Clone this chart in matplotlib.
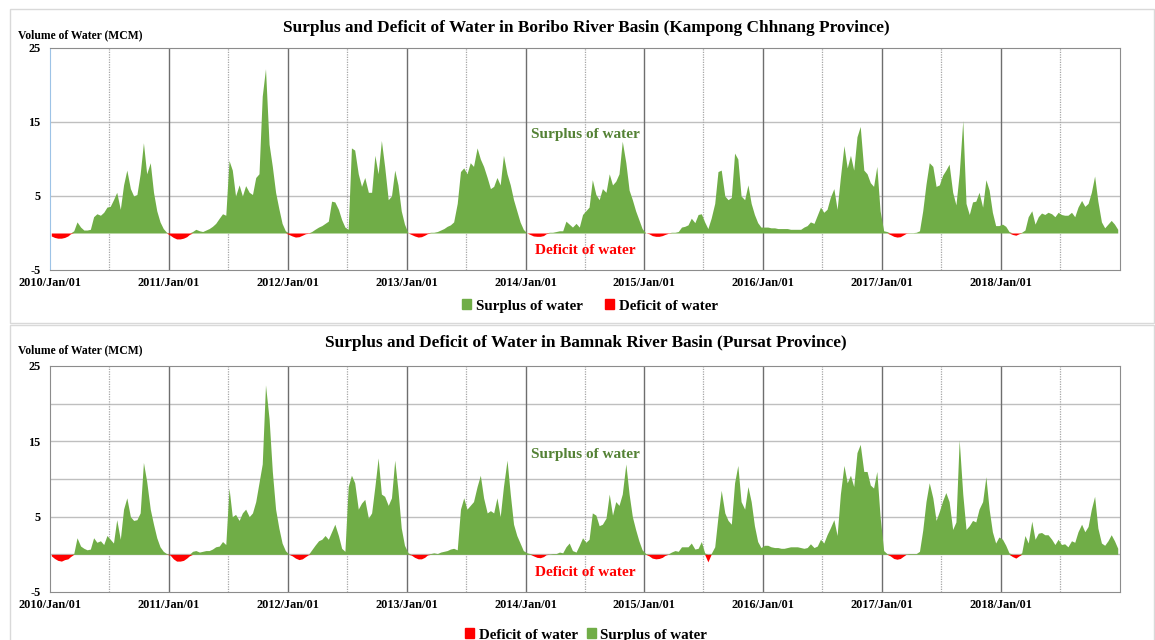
import datetime as dt

import matplotlib
matplotlib.use("Agg")
import matplotlib.dates as mdates
import matplotlib.pyplot as plt
import numpy as np
from matplotlib.patches import Patch, Rectangle

plt.rcParams["font.family"] = ["Liberation Serif", "DejaVu Serif"]
plt.rcParams["font.weight"] = "bold"
plt.rcParams["axes.unicode_minus"] = False

YEARS = list(range(2010, 2019))

# ten-day net water balance (MCM), 36 values per year; > 0 surplus, < 0 deficit
boribo_2010 = [-0.4, -0.6, -0.7, -0.7, -0.6, -0.4, -0.1, 0.3, 1.5, 0.8, 0.4, 0.4,
               0.5, 2.2, 2.6, 2.4, 2.8, 3.5, 3.6, 4.5, 5.5, 3.2, 6.5, 8.5,
               6.0, 5.0, 5.2, 8.0, 12.2, 8.0, 9.5, 5.5, 3.0, 1.5, 0.6, 0.1]
boribo_2011 = [-0.3, -0.6, -0.8, -0.8, -0.7, -0.5, -0.2, 0.2, 0.5, 0.3, 0.2, 0.4,
               0.6, 0.9, 1.3, 2.0, 2.6, 2.4, 9.8, 8.5, 5.0, 6.5, 5.0, 6.4,
               5.5, 5.2, 7.5, 8.0, 18.5, 22.2, 12.0, 9.0, 5.5, 3.3, 1.3, 0.3]
boribo_2012 = [-0.2, -0.4, -0.55, -0.5, -0.3, -0.1, -0.05, 0.2, 0.5, 0.8, 1.0, 1.3,
               1.6, 4.3, 4.2, 3.2, 1.8, 0.8, 0.5, 11.5, 11.2, 8.0, 6.3, 7.5,
               5.5, 5.5, 10.5, 8.0, 12.5, 9.0, 4.5, 5.0, 8.5, 6.5, 3.0, 1.2]
boribo_2013 = [0.0, -0.2, -0.4, -0.55, -0.5, -0.3, -0.1, 0.1, 0.1, 0.2, 0.4, 0.6,
               0.9, 1.1, 1.5, 4.0, 8.3, 8.8, 8.0, 9.5, 9.0, 11.5, 10.0, 9.0,
               7.5, 6.0, 6.3, 7.5, 6.5, 10.5, 8.0, 6.5, 4.5, 3.0, 1.5, 0.5]
boribo_2014 = [0.0, -0.2, -0.4, -0.45, -0.45, -0.35, -0.1, 0.1, 0.1, 0.2, 0.3, 0.3,
               1.6, 1.2, 0.8, 1.3, 0.8, 2.5, 3.0, 3.5, 7.2, 5.2, 4.5, 6.0,
               5.5, 8.0, 6.5, 7.0, 8.0, 12.4, 9.5, 5.8, 4.5, 3.0, 1.8, 0.6]
boribo_2015 = [0.0, -0.1, -0.35, -0.45, -0.45, -0.35, -0.2, -0.05, 0.1, 0.1, 0.2, 0.8,
               0.9, 1.1, 2.0, 1.4, 2.5, 2.6, 1.5, 0.6, 2.0, 4.0, 8.3, 8.5,
               5.0, 4.5, 4.8, 10.8, 10.0, 5.0, 4.5, 6.5, 4.0, 2.5, 1.4, 0.8]
boribo_2016 = [0.8, 0.8, 0.7, 0.7, 0.6, 0.6, 0.6, 0.6, 0.5, 0.5, 0.5, 0.5,
               0.8, 1.0, 1.5, 1.3, 2.4, 3.5, 2.8, 3.2, 4.8, 6.0, 3.2, 7.5,
               11.8, 8.8, 10.5, 8.5, 13.0, 14.4, 8.5, 8.0, 6.8, 6.3, 9.0, 3.0]
boribo_2017 = [0.3, 0.2, -0.2, -0.45, -0.55, -0.5, -0.3, -0.05, 0.05, 0.05, 0.1, 0.3,
               3.0, 6.6, 9.5, 9.0, 6.3, 6.5, 7.8, 8.5, 9.3, 5.5, 3.8, 8.0,
               15.2, 4.0, 2.5, 4.2, 4.3, 5.5, 3.5, 7.2, 5.8, 2.8, 1.0, 1.0]
boribo_2018 = [1.2, 0.9, 0.2, -0.2, -0.3, -0.1, 0.1, 0.4, 2.2, 3.0, 1.2, 2.2,
               2.7, 2.5, 2.8, 2.6, 2.2, 2.8, 2.5, 2.4, 2.4, 2.8, 2.2, 3.5,
               4.4, 3.6, 4.0, 5.5, 7.7, 4.3, 1.5, 0.7, 1.2, 1.7, 1.2, 0.5]

bamnak_2010 = [-0.2, -0.55, -0.8, -0.9, -0.7, -0.6, -0.3, 0.1, 2.2, 1.1, 0.8, 0.6,
               0.7, 2.2, 1.6, 1.8, 1.3, 2.5, 2.0, 1.5, 4.6, 2.0, 6.0, 7.5,
               5.0, 4.5, 4.6, 5.5, 12.2, 9.7, 6.0, 4.0, 2.2, 1.0, 0.4, 0.1]
bamnak_2011 = [-0.1, -0.6, -0.9, -0.9, -0.8, -0.5, -0.2, 0.4, 0.5, 0.3, 0.4, 0.5,
               0.5, 0.7, 1.0, 1.1, 1.7, 1.3, 8.8, 5.0, 5.3, 4.5, 5.5, 6.0,
               5.0, 5.5, 7.0, 9.5, 12.0, 22.5, 18.0, 11.0, 6.0, 3.5, 1.5, 0.5]
bamnak_2012 = [0.0, -0.2, -0.5, -0.7, -0.6, -0.3, -0.05, 0.6, 1.2, 1.8, 2.0, 2.5,
               2.0, 3.0, 4.0, 2.5, 0.8, 0.4, 9.0, 10.5, 9.5, 6.0, 6.8, 7.3,
               4.8, 5.5, 9.0, 12.8, 8.0, 7.7, 6.5, 7.5, 12.5, 8.5, 3.5, 1.2]
bamnak_2013 = [0.2, -0.1, -0.4, -0.6, -0.6, -0.4, -0.1, 0.1, 0.2, 0.1, 0.3, 0.4,
               0.5, 0.7, 0.8, 0.6, 6.0, 7.5, 6.0, 6.5, 7.0, 9.0, 10.5, 7.5,
               5.5, 5.8, 5.5, 7.5, 5.0, 9.0, 12.5, 8.0, 4.0, 2.5, 1.5, 0.5]
bamnak_2014 = [0.2, 0.1, -0.2, -0.4, -0.45, -0.3, -0.05, 0.05, 0.1, 0.1, 0.3, 0.2,
               1.0, 1.5, 0.5, 0.3, 1.2, 2.2, 1.6, 2.0, 5.5, 5.2, 3.8, 4.0,
               4.8, 8.0, 5.2, 7.0, 6.5, 8.0, 12.0, 8.0, 5.0, 3.3, 1.8, 0.6]
bamnak_2015 = [0.1, -0.2, -0.5, -0.6, -0.55, -0.4, -0.15, 0.05, 0.3, 0.5, 0.4, 1.0,
               1.0, 1.0, 1.5, 0.7, 0.8, 1.7, 0.2, -1.0, 0.1, 1.0, 5.0, 8.5,
               5.5, 4.5, 4.0, 9.5, 11.8, 7.0, 6.0, 9.0, 7.0, 3.8, 1.7, 0.9]
bamnak_2016 = [1.2, 1.2, 1.0, 0.9, 0.9, 0.8, 0.8, 0.9, 1.0, 1.0, 1.0, 0.9,
               0.8, 0.9, 1.4, 0.9, 1.1, 2.0, 1.5, 2.6, 3.5, 4.6, 2.5, 8.0,
               11.8, 9.5, 10.5, 9.0, 13.5, 14.6, 11.0, 11.0, 9.2, 8.8, 11.0, 5.0]
bamnak_2017 = [0.5, 0.1, -0.2, -0.55, -0.65, -0.55, -0.3, 0.05, 0.1, 0.1, 0.1, 0.4,
               3.2, 7.0, 9.5, 7.5, 4.5, 5.7, 7.1, 8.2, 7.0, 3.3, 4.3, 15.2,
               8.0, 3.3, 3.8, 4.5, 4.3, 6.0, 7.0, 10.3, 6.0, 3.0, 1.5, 2.3]
bamnak_2018 = [2.0, 1.2, 0.2, -0.3, -0.5, -0.2, 0.2, 2.5, 1.5, 4.4, 2.0, 2.8,
               2.9, 2.6, 2.6, 2.0, 1.3, 2.0, 1.3, 1.4, 1.0, 1.8, 1.6, 3.0,
               4.0, 3.0, 3.7, 6.0, 7.7, 3.5, 1.5, 1.2, 1.8, 2.6, 1.8, 0.8]

boribo = (boribo_2010 + boribo_2011 + boribo_2012 + boribo_2013 + boribo_2014
          + boribo_2015 + boribo_2016 + boribo_2017 + boribo_2018)
bamnak = (bamnak_2010 + bamnak_2011 + bamnak_2012 + bamnak_2013 + bamnak_2014
          + bamnak_2015 + bamnak_2016 + bamnak_2017 + bamnak_2018)

GREEN = "#70AD47"
RED = "#FF0000"
TEXT_GREEN = "#548235"

dates = [dt.datetime(y, m, d) for y in YEARS for m in range(1, 13) for d in (5, 15, 25)]


def draw_panel(ax, values, yticks_grid, left_color):
    v = np.array(values)
    surplus = np.clip(v, 0, None)
    deficit = np.clip(v, None, 0)

    for g in yticks_grid:
        ax.axhline(g, color="#BFBFBF", lw=1.0, zorder=0)
    for y in YEARS[1:]:
        ax.axvline(dt.datetime(y, 1, 1), color="#6E6E6E", lw=1.0, zorder=0)
    for y in YEARS:
        ax.axvline(dt.datetime(y, 7, 1), color="#A6A6A6", lw=0.9, ls=(0, (1, 1)), zorder=0)

    ax.fill_between(dates, 0, surplus, color=GREEN, lw=0, zorder=2)
    ax.fill_between(dates, 0, deficit, color=RED, lw=0, zorder=2)

    ax.set_xlim(dt.datetime(2010, 1, 1), dt.datetime(2019, 1, 1))
    ax.set_ylim(-5, 25)
    ax.set_yticks([25, 15, 5, -5])
    ax.set_xticks([dt.datetime(y, 1, 1) for y in YEARS])
    ax.xaxis.set_major_formatter(mdates.DateFormatter("%Y/%b/%d"))
    ax.tick_params(length=0, labelsize=8.8)
    ax.tick_params(axis="x", pad=5)
    ax.tick_params(axis="y", pad=7)
    for s in ("top", "right", "bottom"):
        ax.spines[s].set_color("#8C8C8C")
    ax.spines["left"].set_color(left_color)

    mid = dt.datetime(2014, 7, 3)
    ax.text(mid, 13.3, "Surplus of water", color=TEXT_GREEN, fontsize=11,
            ha="center", va="center")
    ax.text(mid, -2.4, "Deficit of water", color=RED, fontsize=11,
            ha="center", va="center")


fig = plt.figure(figsize=(11.55, 6.40), dpi=100)

# panel frames
fig.add_artist(Rectangle((10 / 1155, 317 / 640), 1144 / 1155, 314 / 640,
                         transform=fig.transFigure, fill=False, ec="#D9D9D9", lw=1))
fig.add_artist(Rectangle((10 / 1155, -5 / 640), 1144 / 1155, 320 / 640,
                         transform=fig.transFigure, fill=False, ec="#D9D9D9", lw=1))

ax1 = fig.add_axes([50 / 1155, 370 / 640, 1070 / 1155, 222 / 640])
draw_panel(ax1, boribo, [15, 5], "#9DC3E6")
fig.text(586 / 1155, 612 / 640,
         "Surplus and Deficit of Water in Boribo River Basin (Kampong Chhnang Province)",
         ha="center", va="center", fontsize=12.4)
fig.text(18 / 1155, 605 / 640, "Volume of Water (MCM)", ha="left", va="center", fontsize=8.4)
fig.legend(handles=[Patch(color=GREEN, label="Surplus of water"),
                    Patch(color=RED, label="Deficit of water")],
           loc="center", bbox_to_anchor=(590 / 1155, 334 / 640), ncol=2, frameon=False,
           fontsize=10.8, handlelength=0.6, handleheight=0.6, handletextpad=0.3,
           columnspacing=1.5)

ax2 = fig.add_axes([50 / 1155, 48 / 640, 1070 / 1155, 226 / 640])
draw_panel(ax2, bamnak, [20, 15, 10, 5, 0], "#8C8C8C")
fig.text(586 / 1155, 297 / 640,
         "Surplus and Deficit of Water in Bamnak River Basin (Pursat Province)",
         ha="center", va="center", fontsize=12.4)
fig.text(18 / 1155, 290 / 640, "Volume of Water (MCM)", ha="left", va="center", fontsize=8.4)
fig.legend(handles=[Patch(color=RED, label="Deficit of water"),
                    Patch(color=GREEN, label="Surplus of water")],
           loc="center", bbox_to_anchor=(586 / 1155, 5 / 640), ncol=2, frameon=False,
           fontsize=10.8, handlelength=0.6, handleheight=0.6, handletextpad=0.3,
           columnspacing=0.6)

fig.savefig("out.png", dpi=100)
